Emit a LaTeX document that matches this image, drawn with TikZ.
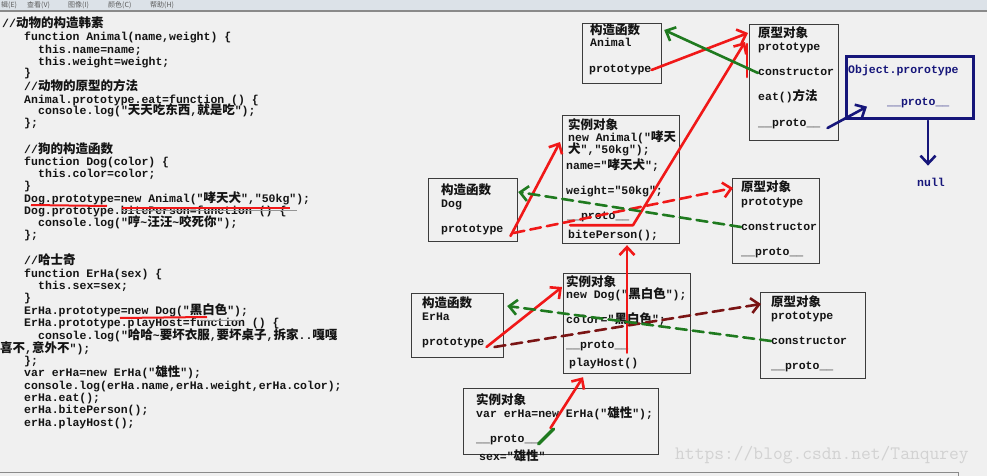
\documentclass[tikz,border=0pt]{standalone}
\usepackage{fontspec}
\newfontfamily\codefont{Liberation Mono}
\newfontfamily\cjkfont{Noto Sans CJK SC}
\usetikzlibrary{arrows.meta,calc}
\definecolor{canvas}{HTML}{F0F0F0}
\definecolor{ink}{HTML}{141414}
\definecolor{boxline}{HTML}{3C3C3C}
\definecolor{penred}{HTML}{F01818}
\definecolor{pengreen}{HTML}{1F7A1F}
\definecolor{penbrown}{HTML}{7A1414}
\definecolor{pennavy}{HTML}{16167A}
\definecolor{wm}{HTML}{D2D2D2}
\definecolor{menubg}{HTML}{DCE2E8}
\definecolor{menuline}{HTML}{8A8A8A}
\newcommand{\zh}[1]{{\cjkfont\bfseries\fontsize{12.5}{12.5}\selectfont #1}}

\begin{document}
\begin{tikzpicture}[x=1pt,y=-1pt,
      code/.style={anchor=west, inner sep=0pt, text height=8.5pt, text depth=2.5pt,
                   font=\codefont\bfseries\fontsize{11.5}{12}\selectfont, text=ink},
      objbox/.style={draw=boxline, line width=1.2pt, anchor=north west, inner sep=0pt},
      hand/.style={line width=2.6pt, line cap=round, line join=round,
                   -{Straight Barb[length=8pt,width=15pt]}},
      redarr/.style={hand, draw=penred},
      reddash/.style={redarr, dash pattern=on 11pt off 6pt},
      greenarr/.style={hand, draw=pengreen},
      greendash/.style={greenarr, dash pattern=on 11pt off 6pt},
      browndash/.style={hand, draw=penbrown, dash pattern=on 11pt off 6pt},
      navyarr/.style={hand, draw=pennavy},
      pen/.style={line width=2.6pt, line cap=round}]
    \useasboundingbox (0,0) rectangle (987,476);
    \fill[canvas] (0,0) rectangle (987,476);
    % menu bar
    \fill[menubg] (0,0) rectangle (987,10);
    \draw[menuline, line width=1.5pt] (0,11) -- (987,11);
    \foreach \mx/\mt in {1/辑(E), 27/查看(V), 68/图像(I), 108/颜色(C), 150/帮助(H)}
      \node[anchor=west, inner sep=0pt, text=ink!70, font=\cjkfont\fontsize{7}{7}\selectfont] at (\mx,5) {\mt};
    \draw[menuline, line width=1pt] (0,472) -- (958,472) -- (958,476);

    % code listing
    \node[code] (c01) at (2,25) {//\zh{动物的构造韩素}};
    \node[code] (c02) at (24,38) {function Animal(name,weight) \{};
    \node[code] (c03) at (38,51) {this.name=name;};
    \node[code] (c04) at (38,63) {this.weight=weight;};
    \node[code] (c05) at (24,74) {\}};
    \node[code] (c06) at (24,88) {//\zh{动物的原型的方法}};
    \node[code] (c07) at (24,100) {Animal.prototype.eat=function () \{};
    \node[code] (c08) at (38,112) {console.log("\zh{天天吃东西},\zh{就是吃}");};
    \node[code] (c09) at (24,124) {\};};
    \node[code] (c10) at (24,150) {//\zh{狗的构造函数}};
    \node[code] (c11) at (24,162) {function Dog(color) \{};
    \node[code] (c12) at (38,174) {this.color=color;};
    \node[code] (c13) at (24,186) {\}};
    \node[code] (c14) at (24,199) {Dog.prototype=new Animal("\zh{哮天犬}","50kg");};
    \node[code] (c15) at (24,211) {Dog.prototype.bitePerson=function () \{};
    \node[code] (c16) at (38,223) {console.log("\zh{哼}\textasciitilde\zh{汪汪}\textasciitilde\zh{咬死你}");};
    \node[code] (c17) at (24,235) {\};};
    \node[code] (c18) at (24,261) {//\zh{哈士奇}};
    \node[code] (c19) at (24,274) {function ErHa(sex) \{};
    \node[code] (c20) at (38,286) {this.sex=sex;};
    \node[code] (c21) at (24,298) {\}};
    \node[code] (c22) at (24,311) {ErHa.prototype=new Dog("\zh{黑白色}");};
    \node[code] (c23) at (24,323) {ErHa.prototype.playHost=function () \{};
    \node[code] (c24) at (38,336) {console.log("\zh{哈哈}\textasciitilde\zh{要坏衣服},\zh{要坏桌子},\zh{拆家}..\zh{嘎嘎}};
    \node[code] (c25) at (0,349) {\zh{喜不},\zh{意外不}");};
    \node[code] (c26) at (24,361) {\};};
    \node[code] (c27) at (24,373) {var erHa=new ErHa("\zh{雄性}");};
    \node[code] (c28) at (24,386) {console.log(erHa.name,erHa.weight,erHa.color);};
    \node[code] (c29) at (24,398) {erHa.eat();};
    \node[code] (c30) at (24,410) {erHa.bitePerson();};
    \node[code] (c31) at (24,423) {erHa.playHost();};
    % underlines in the code
    \draw[ink!45, line width=0.8pt] (122,210) -- (297,210);
    \draw[penred, line width=2pt] (31,205) -- (107,206);
    \draw[penred, line width=2pt] (122,208) -- (290,208);
    \draw[ink!45, line width=0.8pt] (200,320) -- (240,320);
    \draw[penred, line width=2pt] (120,318) -- (207,317);

    % Animal
    \node[objbox, minimum width=79pt, minimum height=60pt] (anibox) at (582,23) {};
    \node[code] (ani1) at (590,32) {\zh{构造函数}};
    \node[code] (ani2) at (590,44) {Animal};
    \node[code] (anip) at (589,70) {prototype};
    \node[objbox, minimum width=89pt, minimum height=116pt] (apbox) at (749,24) {};
    \node[code] (ap1) at (758,35) {\zh{原型对象}};
    \node[code] (ap2) at (758,48) {prototype};
    \node[code] (apc) at (758,73) {constructor};
    \node[code] (ape) at (758,98) {eat()\zh{方法}};
    \node[code] (app) at (758,123) {\_\_proto\_\_};
    % Object.prototype
    \node[objbox, draw=pennavy, line width=2.6pt, minimum width=127pt, minimum height=62pt] (objbox) at (845,55) {};
    \node[code, text=pennavy] (op1) at (848,71) {Object.prorotype};
    \node[code, text=pennavy] (opp) at (887,103) {\_\_proto\_\_};
    \node[code, text=pennavy] (null) at (917,183) {null};

    % Dog
    \node[objbox, minimum width=89pt, minimum height=63pt] (dogbox) at (428,178) {};
    \node[code] (dg1) at (441,191) {\zh{构造函数}};
    \node[code] (dg2) at (441,204) {Dog};
    \node[code] (dgp) at (441,229) {prototype};
    \node[objbox, minimum width=117pt, minimum height=128pt] (dibox) at (562,115) {};
    \node[code] (di1) at (568,126) {\zh{实例对象}};
    \node[code] (di2) at (568,138) {new Animal("\zh{哮天}};
    \node[code] (di3) at (568,150) {\zh{犬}","50kg");};
    \node[code] (di4) at (566,166) {name="\zh{哮天犬}";};
    \node[code] (di5) at (566,191) {weight="50kg";};
    \node[code] (dip) at (567,216) {\_\_proto\_\_};
    \node[code] (di6) at (568,235) {bitePerson();};
    \node[objbox, minimum width=87pt, minimum height=85pt] (dpbox) at (732,178) {};
    \node[code] (dp1) at (741,188) {\zh{原型对象}};
    \node[code] (dp2) at (741,202) {prototype};
    \node[code] (dpc) at (741,227) {constructor};
    \node[code] (dpp) at (741,252) {\_\_proto\_\_};

    % ErHa
    \node[objbox, minimum width=92pt, minimum height=64pt] (erhabox) at (411,293) {};
    \node[code] (eh1) at (422,304) {\zh{构造函数}};
    \node[code] (eh2) at (422,317) {ErHa};
    \node[code] (ehp) at (422,342) {prototype};
    \node[objbox, minimum width=127pt, minimum height=100pt] (eibox) at (563,273) {};
    \node[code] (ei1) at (566,283) {\zh{实例对象}};
    \node[code] (ei2) at (566,295) {new Dog("\zh{黑白色}");};
    \node[code] (ei3) at (566,320) {color="\zh{黑白色}";};
    \node[code] (eip) at (566,345) {\_\_proto\_\_};
    \node[code] (ei4) at (569,363) {playHost()};
    \node[objbox, minimum width=105pt, minimum height=86pt] (epbox) at (760,292) {};
    \node[code] (ep1) at (771,303) {\zh{原型对象}};
    \node[code] (ep2) at (771,316) {prototype};
    \node[code] (epc) at (771,341) {constructor};
    \node[code] (epp) at (771,366) {\_\_proto\_\_};
    % erHa
    \node[objbox, minimum width=195pt, minimum height=66pt] (eobox) at (463,388) {};
    \node[code] (eo1) at (476,401) {\zh{实例对象}};
    \node[code] (eo2) at (476,414) {var erHa=new ErHa("\zh{雄性}");};
    \node[code] (eop) at (476,439) {\_\_proto\_\_};
    \node[code] (eo3) at (479,457) {sex="\zh{雄性}"};

    % pen strokes
    \draw[redarr] (anip.east) -- ($(apbox.north west)+(-1,9)$);
    \draw[redarr] ($(dip.south west)+(3,3.5)$) -- ($(dip.south west)+(66,3.5)$) -- ($(apbox.north west)+(-4,18)$);
    \draw[pen, penred] ($(apbox.north west)+(-2,20)$) -- ++(0,33);
    \draw[greenarr] (apc.west) -- ($(anibox.north east)+(2,7)$);
    \draw[redarr] ($(dgp.east)+(7,7)$) -- ($(dibox.north west)+(-2,27)$);
    \draw[reddash] ($(dgp.east)+(10,4)$) -- ($(dpbox.north west)+(1,10)$);
    \draw[greendash] (dpc.west) -- ($(dogbox.north east)+(0,14)$);
    \draw[redarr] ($(eip.south west)+(61,2)$) -- ($(dibox.south west)+(65,1)$);
    \draw[redarr] ($(ehp.east)+(2,5)$) -- ($(eibox.north west)+(-1,14)$);
    \draw[browndash] ($(ehp.east)+(10,5)$) -- ($(epbox.north west)+(1,12)$);
    \draw[greendash] (epc.west) -- ($(erhabox.north east)+(3,13)$);
    \draw[redarr] ($(eop.east)+(12,-11)$) -- ($(eibox.south west)+(20,3)$);
    \draw[pen, pengreen, line width=3.5pt] ($(eop.east)+(0,5)$) -- ($(eop.east)+(15,-10)$);
    \draw[navyarr] ($(app.east)+(7,5)$) -- ($(objbox.south west)+(22,-13)$);
    \draw[navyarr] ($(objbox.south west)+(83,1)$) -- ($(objbox.south west)+(83,46)$);

    \node[anchor=west, inner sep=0pt, text=wm, font=\ttfamily\fontsize{19}{19}\selectfont] (wmark) at (675,455) {https://blog.csdn.net/Tanqurey};
  \end{tikzpicture}
\end{document}
